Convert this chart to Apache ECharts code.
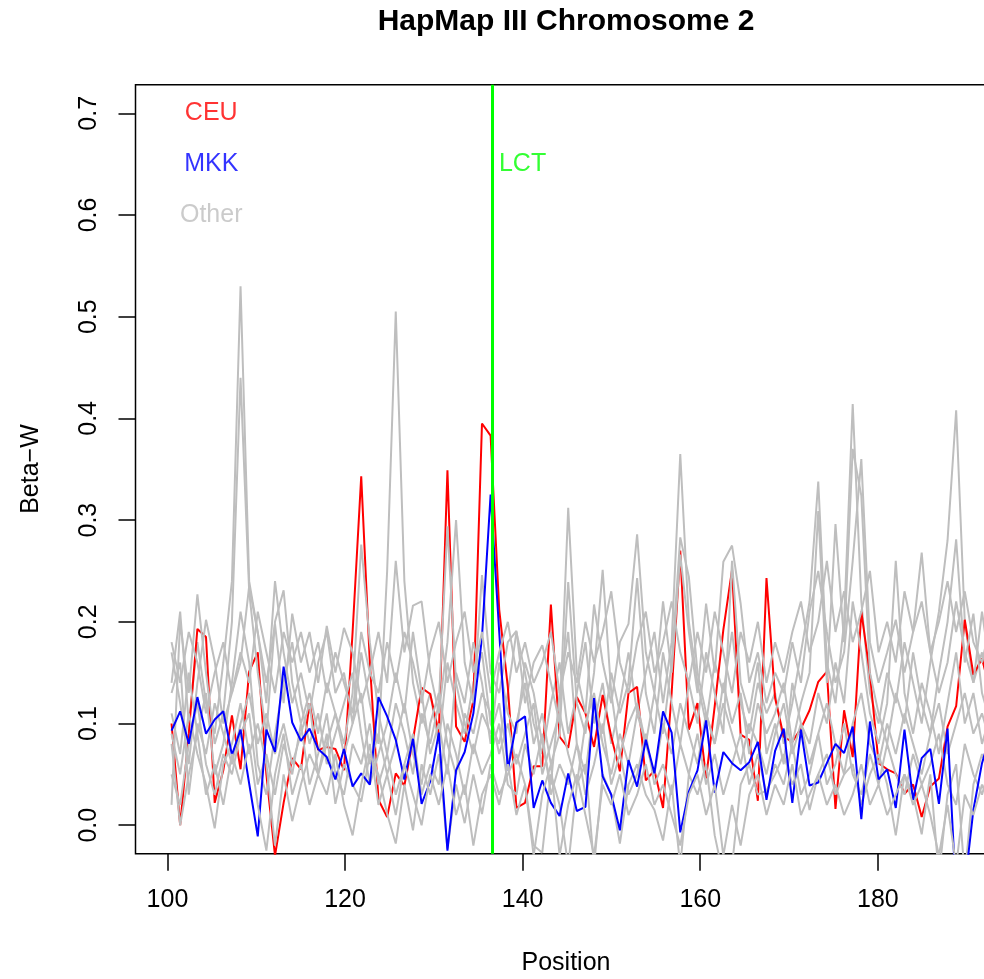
<!DOCTYPE html>
<html>
<head>
<meta charset="utf-8">
<title>HapMap III Chromosome 2</title>
<script src="https://cdn.jsdelivr.net/npm/echarts@6/dist/echarts.min.js"></script>
<style>
  html, body { margin: 0; padding: 0; background: #fff; }
  #chart { width: 984px; height: 979px; }
</style>
</head>
<body>
<div id="chart"></div>
<script>
// window centres (Mb), shared by every population
const positions = [
  100.46, 101.43, 102.40, 103.37, 104.34, 105.32, 106.29, 107.26, 108.23, 109.20,
  110.17, 111.14, 112.11, 113.08, 114.05, 115.03, 116.00, 116.97, 117.94, 118.91,
  119.88, 120.85, 121.82, 122.79, 123.76, 124.74, 125.71, 126.68, 127.65, 128.62,
  129.59, 130.56, 131.53, 132.50, 133.47, 134.45, 135.42, 136.39, 137.36, 138.33,
  139.30, 140.27, 141.24, 142.21, 143.18, 144.16, 145.13, 146.10, 147.07, 148.04,
  149.01, 149.98, 150.95, 151.92, 152.89, 153.87, 154.84, 155.81, 156.78, 157.75,
  158.72, 159.69, 160.66, 161.63, 162.60, 163.58, 164.55, 165.52, 166.49, 167.46,
  168.43, 169.40, 170.37, 171.34, 172.31, 173.29, 174.26, 175.23, 176.20, 177.17,
  178.14, 179.11, 180.08, 181.05, 182.02, 183.00, 183.97, 184.94, 185.91, 186.88,
  187.85, 188.82, 189.79, 190.76, 191.73, 192.71
];

// Beta-W for CEU (red)
const ceu = [
  0.100, 0.000, 0.090, 0.193, 0.185, 0.022, 0.054, 0.108, 0.055, 0.151,
  0.170, 0.050, -0.030, 0.022, 0.066, 0.055, 0.120, 0.074, 0.077, 0.075,
  0.054, 0.190, 0.343, 0.160, 0.025, 0.008, 0.051, 0.039, 0.084, 0.135,
  0.129, 0.091, 0.349, 0.097, 0.082, 0.123, 0.395, 0.383, 0.212, 0.136,
  0.017, 0.022, 0.058, 0.058, 0.217, 0.087, 0.076, 0.126, 0.110, 0.077,
  0.128, 0.087, 0.053, 0.130, 0.136, 0.044, 0.054, 0.017, 0.130, 0.270,
  0.094, 0.120, 0.046, 0.117, 0.192, 0.251, 0.089, 0.084, 0.024, 0.243,
  0.125, 0.087, 0.082, 0.095, 0.113, 0.141, 0.151, 0.016, 0.113, 0.067,
  0.210, 0.149, 0.061, 0.055, 0.051, 0.031, 0.040, 0.008, 0.038, 0.046,
  0.097, 0.117, 0.202, 0.148, 0.164, 0.130
];

// Beta-W for MKK (blue)
const mkk = [
  0.093, 0.112, 0.080, 0.126, 0.090, 0.104, 0.112, 0.069, 0.094, 0.041,
  -0.011, 0.094, 0.072, 0.156, 0.101, 0.083, 0.095, 0.075, 0.067, 0.045,
  0.075, 0.038, 0.051, 0.040, 0.126, 0.107, 0.084, 0.045, 0.085, 0.021,
  0.043, 0.091, -0.025, 0.054, 0.072, 0.110, 0.185, 0.325, 0.190, 0.054,
  0.101, 0.107, 0.017, 0.044, 0.022, 0.009, 0.051, 0.014, 0.018, 0.125,
  0.048, 0.030, -0.005, 0.064, 0.038, 0.084, 0.051, 0.112, 0.091, -0.007,
  0.033, 0.054, 0.103, 0.032, 0.072, 0.061, 0.054, 0.062, 0.082, 0.025,
  0.073, 0.095, 0.022, 0.094, 0.039, 0.042, 0.061, 0.080, 0.071, 0.097,
  0.006, 0.102, 0.045, 0.055, 0.017, 0.094, 0.025, 0.066, 0.075, 0.021,
  0.095, -0.070, -0.060, 0.015, 0.061, 0.090
];

// the other nine populations (grey)
const other1 = [
  0.14, 0.21, 0.10, 0.18, 0.12, 0.09, 0.16, 0.24, 0.53, 0.24,
  0.19, 0.12, 0.24, 0.17, 0.12, 0.15, 0.11, 0.16, 0.19, 0.13,
  0.15, 0.10, 0.17, 0.12, 0.08, 0.25, 0.505, 0.24, 0.14, 0.10,
  0.13, 0.08, 0.16, 0.12, 0.09, 0.14, 0.17, 0.10, 0.08, 0.13,
  0.19, 0.15, 0.10, 0.07, 0.12, 0.16, 0.09, 0.13, 0.18, 0.10,
  0.14, 0.08, 0.12, 0.17, 0.11, 0.15, 0.19, 0.12, 0.18, 0.365,
  0.20, 0.14, 0.10, 0.16, 0.13, 0.19, 0.12, 0.09, 0.14, 0.11,
  0.13, 0.08, 0.12, 0.17, 0.22, 0.338, 0.16, 0.12, 0.20, 0.414,
  0.22, 0.13, 0.10, 0.15, 0.12, 0.18, 0.14, 0.10, 0.16, 0.21,
  0.28, 0.408, 0.20, 0.14, 0.17, 0.12
];
const other2 = [
  0.02, 0.20, 0.13, 0.227, 0.15, 0.08, 0.11, 0.20, 0.44, 0.23,
  0.15, 0.09, 0.20, 0.231, 0.14, 0.10, 0.13, 0.09, 0.14, 0.11,
  0.08, 0.13, 0.276, 0.18, 0.11, 0.07, 0.12, 0.09, 0.05, 0.11,
  0.08, 0.12, 0.294, 0.14, 0.10, 0.07, 0.11, 0.09, 0.12, 0.06,
  0.10, 0.14, 0.08, 0.11, 0.06, 0.09, 0.239, 0.12, 0.09, 0.15,
  0.251, 0.13, 0.07, 0.10, 0.12, 0.08, 0.13, 0.09, 0.16, 0.283,
  0.244, 0.15, 0.11, 0.08, 0.14, 0.10, 0.13, 0.07, 0.12, 0.09,
  0.11, 0.14, 0.08, 0.12, 0.15, 0.309, 0.14, 0.296, 0.18, 0.37,
  0.324, 0.15, 0.11, 0.08, 0.13, 0.10, 0.17, 0.12, 0.09, 0.15,
  0.20, 0.281, 0.16, 0.208, 0.13, 0.10
];
const other3 = [
  0.17, 0.12, 0.06, 0.14, 0.202, 0.161, 0.10, 0.13, 0.16, 0.235,
  0.189, 0.14, 0.198, 0.12, 0.208, 0.16, 0.19, 0.14, 0.196, 0.15,
  0.194, 0.17, 0.12, 0.15, 0.19, 0.14, 0.26, 0.17, 0.216, 0.22,
  0.15, 0.11, 0.18, 0.30, 0.16, 0.12, 0.246, 0.15, 0.13, 0.18,
  0.191, 0.12, 0.16, 0.177, 0.14, 0.10, 0.312, 0.15, 0.11, 0.217,
  0.16, 0.12, 0.18, 0.198, 0.286, 0.17, 0.13, 0.22, 0.15, 0.266,
  0.19, 0.13, 0.218, 0.15, 0.259, 0.275, 0.218, 0.14, 0.17, 0.12,
  0.15, 0.13, 0.18, 0.14, 0.21, 0.25, 0.19, 0.14, 0.17, 0.26,
  0.36, 0.18, 0.14, 0.17, 0.202, 0.15, 0.19, 0.268, 0.17, 0.13,
  0.16, 0.22, 0.17, 0.14, 0.21, 0.15
];
const other4 = [
  0.09, 0.05, 0.11, 0.07, 0.04, -0.003, 0.06, 0.08, 0.12, 0.07,
  0.10, 0.06, -0.02, 0.05, 0.004, 0.04, 0.07, 0.05, 0.09, 0.021,
  0.06, 0.04, 0.023, 0.07, 0.05, 0.011, -0.018, 0.04, -0.005, 0.06,
  0.03, 0.07, -0.023, 0.04, 0.002, 0.05, 0.011, 0.06, 0.03, 0.05,
  0.07, 0.04, -0.02, -0.027, 0.05, 0.02, -0.04, 0.04, 0.06, -0.04,
  0.05, 0.03, -0.018, 0.04, 0.06, 0.03, 0.015, -0.015, 0.04, -0.04,
  0.05, 0.03, 0.06, -0.01, -0.05, -0.04, 0.04, 0.06, 0.03, 0.034,
  0.05, 0.07, 0.04, 0.06, 0.015, 0.05, 0.07, 0.03, 0.05, 0.06,
  0.02, 0.05, 0.07, 0.04, -0.01, 0.05, 0.03, -0.009, 0.05, -0.05,
  0.03, 0.06, -0.05, 0.04, 0.07, 0.05
];
const other5 = [
  0.13, 0.16, 0.03, 0.10, 0.07, 0.12, 0.09, 0.06, 0.10, 0.13,
  0.08, 0.11, 0.07, 0.10, 0.06, 0.09, 0.12, 0.05, 0.08, 0.11,
  0.07, 0.10, 0.13, 0.06, 0.09, 0.05, 0.08, 0.12, 0.07, 0.04,
  0.10, 0.13, 0.08, 0.05, 0.11, 0.09, 0.13, 0.11, 0.07, 0.10,
  0.06, 0.09, 0.12, 0.05, 0.08, 0.11, 0.07, 0.04, 0.10, 0.13,
  0.08, 0.05, 0.09, 0.06, 0.11, 0.08, 0.05, 0.10, 0.07, 0.12,
  0.09, 0.06, 0.11, 0.08, 0.12, 0.09, 0.06, 0.10, 0.08, 0.05,
  0.09, 0.12, 0.07, 0.10, 0.06, 0.09, 0.12, 0.08, 0.05, 0.10,
  0.13, 0.08, 0.06, 0.10, 0.07, 0.11, 0.08, 0.05, 0.09, 0.12,
  0.07, 0.10, 0.13, 0.09, 0.11, 0.08
];
const other6 = [
  0.11, 0.07, 0.15, 0.09, 0.13, 0.05, 0.08, 0.14, 0.21, 0.16,
  0.06, 0.03, 0.09, 0.14, 0.18, 0.12, 0.08, 0.11, 0.06, 0.09,
  0.12, 0.15, 0.09, 0.04, 0.07, 0.10, 0.15, 0.11, 0.19, 0.13,
  0.07, 0.10, 0.05, 0.15, 0.12, 0.18, 0.14, 0.08, 0.16, 0.11,
  0.09, 0.16, 0.13, 0.08, 0.04, 0.13, 0.19, 0.08, 0.05, 0.12,
  0.09, 0.15, 0.11, 0.14, 0.243, 0.13, 0.09, 0.17, 0.12, 0.08,
  0.14, 0.10, 0.17, 0.13, 0.09, 0.26, 0.14, 0.11, 0.16, 0.07,
  0.10, 0.06, 0.14, 0.10, 0.08, 0.13, 0.10, 0.16, 0.12, 0.22,
  0.17, 0.11, 0.08, 0.12, 0.26, 0.13, 0.09, 0.14, 0.11, 0.07,
  0.12, 0.17, 0.10, 0.13, 0.08, 0.11
];
const other7 = [
  0.05, 0.02, 0.08, 0.12, 0.06, 0.03, 0.07, 0.05, 0.09, 0.11,
  0.04, 0.07, 0.03, 0.08, 0.05, 0.10, 0.04, 0.07, 0.11, 0.05,
  0.03, 0.08, 0.06, 0.10, 0.04, 0.07, 0.03, 0.06, 0.09, 0.03,
  0.06, 0.04, 0.10, 0.07, 0.03, 0.08, 0.05, 0.07, 0.10, 0.04,
  0.03, 0.08, 0.05, 0.09, 0.03, 0.06, 0.04, 0.08, 0.03, 0.06,
  0.10, 0.04, 0.07, 0.03, 0.05, 0.09, 0.04, 0.06, 0.03, 0.08,
  0.05, 0.09, 0.04, 0.07, 0.03, 0.06, 0.09, 0.04, 0.07, 0.03,
  0.06, 0.04, 0.08, 0.03, 0.05, 0.09, 0.04, 0.06, 0.10, 0.05,
  0.03, 0.07, 0.04, 0.08, 0.05, 0.03, 0.07, 0.04, 0.06, 0.09,
  0.04, 0.02, 0.08, 0.05, 0.03, 0.06
];
const other8 = [
  0.18, 0.14, 0.19, 0.16, 0.11, 0.15, 0.18, 0.13, 0.17, 0.14,
  0.21, 0.17, 0.13, 0.19, 0.16, 0.19, 0.15, 0.18, 0.13, 0.17,
  0.14, 0.11, 0.19, 0.15, 0.13, 0.18, 0.14, 0.19, 0.16, 0.12,
  0.17, 0.20, 0.14, 0.18, 0.21, 0.15, 0.19, 0.13, 0.17, 0.20,
  0.15, 0.18, 0.14, 0.16, 0.19, 0.13, 0.17, 0.14, 0.20, 0.16,
  0.19, 0.23, 0.16, 0.13, 0.18, 0.21, 0.15, 0.18, 0.22, 0.17,
  0.14, 0.19, 0.15, 0.21, 0.17, 0.13, 0.19, 0.16, 0.20, 0.14,
  0.18, 0.15, 0.19, 0.22, 0.17, 0.20, 0.26, 0.19, 0.23, 0.18,
  0.21, 0.25, 0.17, 0.20, 0.16, 0.23, 0.19, 0.22, 0.17, 0.20,
  0.24, 0.19, 0.23, 0.18, 0.16, 0.20
];
const other9 = [
  0.08, 0.00, 0.05, 0.09, 0.03, 0.06, 0.02, 0.07, 0.04, 0.08,
  0.02, -0.025, 0.05, 0.09, 0.03, 0.06, 0.02, 0.05, 0.03, 0.07,
  0.02, -0.01, 0.04, 0.08, 0.02, 0.05, 0.01, 0.06, 0.03, 0.00,
  0.05, 0.02, 0.06, 0.01, 0.04, -0.02, 0.03, 0.05, 0.02, 0.06,
  0.01, 0.04, -0.03, 0.03, 0.06, -0.03, 0.02, 0.05, 0.01, -0.03,
  0.04, 0.02, 0.05, 0.01, 0.03, 0.06, 0.02, 0.04, 0.01, -0.02,
  0.03, 0.05, 0.01, 0.04, -0.03, 0.02, -0.02, 0.03, 0.05, 0.01,
  0.04, 0.02, 0.06, 0.01, 0.03, 0.05, 0.02, 0.04, 0.01, 0.03,
  0.06, 0.02, 0.04, 0.01, 0.03, 0.05, 0.02, 0.04, 0.01, -0.03,
  0.02, -0.04, 0.03, 0.01, 0.04, 0.02
];

const lctPos = 136.54;
const xTicks = [100, 120, 140, 160, 180];
const yTicks = [0, 0.1, 0.2, 0.3, 0.4, 0.5, 0.6, 0.7];

const FONT = '"Liberation Sans", Arial, Helvetica, sans-serif';
const GREY = '#BEBEBE';

const chart = echarts.init(document.getElementById('chart'));

function pairs(vals) {
  return vals.map((v, i) => [positions[i], v]);
}

function popLine(name, vals, color) {
  return {
    name: name,
    type: 'line',
    data: pairs(vals),
    showSymbol: false,
    clip: true,
    lineStyle: { color: color, width: 2 },
    emphasis: { disabled: true }
  };
}

// text placed at data coordinates, like R's text()
function note(text, x, y, color, pos, dist) {
  return {
    type: 'scatter',
    data: [[x, y]],
    symbolSize: 0,
    silent: true,
    z: 10,
    label: {
      show: true,
      formatter: text,
      position: pos,
      distance: dist,
      color: color,
      fontSize: 25,
      fontFamily: FONT
    }
  };
}

// drawing order: grey, CEU, grey x6, MKK, grey x2
const series = [
  popLine('other1', other1, GREY),
  popLine('CEU', ceu, '#FF0000'),
  popLine('other2', other2, GREY),
  popLine('other3', other3, GREY),
  popLine('other4', other4, GREY),
  popLine('other5', other5, GREY),
  popLine('other6', other6, GREY),
  popLine('other7', other7, GREY),
  popLine('MKK', mkk, '#0000FF'),
  popLine('other8', other8, GREY),
  popLine('other9', other9, GREY),
  {
    name: 'LCT',
    type: 'line',
    data: [],
    markLine: {
      silent: true,
      symbol: ['none', 'none'],
      label: { show: false },
      lineStyle: { color: '#00FF00', width: 3, type: 'solid' },
      data: [{ xAxis: lctPos }]
    },
    z: 5
  },
  note('CEU', 104.93, 0.70, '#FF0000', 'inside', 0),
  note('MKK', 104.93, 0.65, '#0000FF', 'inside', 0),
  note('Other', 104.93, 0.60, GREY, 'inside', 0),
  note('LCT', lctPos, 0.65, '#00FF00', 'right', 7)
];

const option = {
  animation: false,
  backgroundColor: '#fff',
  grid: {
    left: 135.5, top: 84.8, width: 863.1, height: 768.9,
    outerBoundsMode: 'none',
    containLabel: false,
    show: true, borderColor: '#000', borderWidth: 1.5,
    backgroundColor: 'transparent'
  },
  xAxis: {
    type: 'value',
    min: 96.4, max: 193.6,
    splitLine: { show: false },
    axisLine: { show: false, onZero: false },
    axisTick: { show: true, length: 17, customValues: xTicks, lineStyle: { color: '#000', width: 1.5 } },
    axisLabel: { customValues: xTicks, color: '#000', fontSize: 25, fontFamily: FONT, margin: 34 }
  },
  yAxis: {
    type: 'value',
    min: -0.028, max: 0.728,
    splitLine: { show: false },
    axisLine: { show: false, onZero: false },
    axisTick: { show: true, length: 17, customValues: yTicks, lineStyle: { color: '#000', width: 1.5 } },
    axisLabel: {
      customValues: yTicks, rotate: 90, color: '#000', fontSize: 25, fontFamily: FONT, margin: 34,
      formatter: v => v.toFixed(1)
    }
  },
  graphic: [
    {
      type: 'text', x: 566, y: 22,
      style: { text: 'HapMap III Chromosome 2', fill: '#000', font: 'bold 30px ' + FONT, textAlign: 'center', textVerticalAlign: 'middle' }
    },
    {
      type: 'text', x: 566, y: 963,
      style: { text: 'Position', fill: '#000', font: '25px ' + FONT, textAlign: 'center', textVerticalAlign: 'middle' }
    },
    {
      type: 'text', x: 31, y: 469, rotation: Math.PI / 2,
      style: { text: 'Beta\u2212W', fill: '#000', font: '25px ' + FONT, textAlign: 'center', textVerticalAlign: 'middle' }
    }
  ],
  series: series
};

chart.setOption(option);
</script>
</body>
</html>
